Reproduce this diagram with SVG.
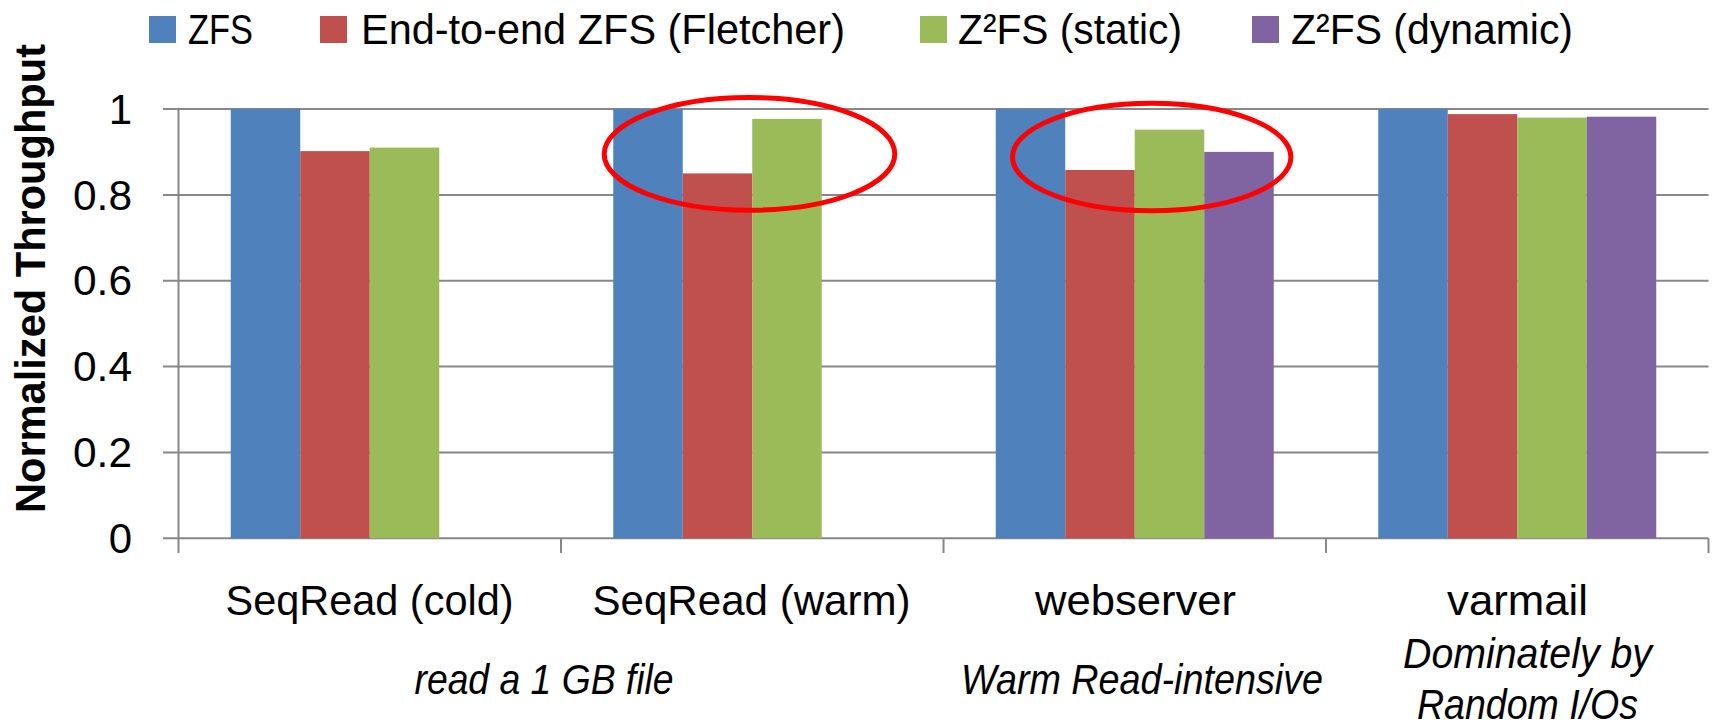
<svg xmlns="http://www.w3.org/2000/svg" width="1717" height="725" viewBox="0 0 1717 725">
<style>
.t{font-family:"Liberation Sans",Arial,sans-serif;font-size:42px;fill:#000}
.i{font-style:italic}
.b{font-weight:bold}
.grid{stroke:#878787;stroke-width:2;fill:none}
.blue{fill:#4F81BD}
.red{fill:#C0504D}
.green{fill:#9BBB59}
.purple{fill:#8064A2}
.ring{fill:none;stroke:#FF0000;stroke-width:5}
</style>
<rect width="1717" height="725" fill="#fff"/>
<g id="legend">
<rect class="blue" x="149" y="16" width="27" height="27"/>
<text class="t" x="188" y="43.5" textLength="65" lengthAdjust="spacingAndGlyphs">ZFS</text>
<rect class="red" x="320" y="16" width="27" height="27"/>
<text class="t" x="361" y="43.5" textLength="484" lengthAdjust="spacingAndGlyphs">End-to-end ZFS (Fletcher)</text>
<rect class="green" x="920" y="16" width="27" height="27"/>
<text class="t" x="958" y="43.5" textLength="224" lengthAdjust="spacingAndGlyphs">Z²FS (static)</text>
<rect class="purple" x="1252" y="16" width="27" height="27"/>
<text class="t" x="1291" y="43.5" textLength="282" lengthAdjust="spacingAndGlyphs">Z²FS (dynamic)</text>
</g>
<g id="axes">
<line class="grid" x1="163" y1="109" x2="1708.5" y2="109"/>
<line class="grid" x1="163" y1="194.9" x2="1708.5" y2="194.9"/>
<line class="grid" x1="163" y1="280.7" x2="1708.5" y2="280.7"/>
<line class="grid" x1="163" y1="366.6" x2="1708.5" y2="366.6"/>
<line class="grid" x1="163" y1="452.4" x2="1708.5" y2="452.4"/>
<line class="grid" x1="163" y1="538.3" x2="1708.5" y2="538.3"/>
<line class="grid" x1="178.5" y1="109" x2="178.5" y2="553"/>
<line class="grid" x1="561" y1="538.3" x2="561" y2="553"/>
<line class="grid" x1="943.5" y1="538.3" x2="943.5" y2="553"/>
<line class="grid" x1="1326" y1="538.3" x2="1326" y2="553"/>
<line class="grid" x1="1708.5" y1="538.3" x2="1708.5" y2="553"/>
</g>
<g id="ticklabels" text-anchor="end">
<text class="t" x="132" y="124">1</text>
<text class="t" x="132" y="209.5" textLength="59" lengthAdjust="spacingAndGlyphs">0.8</text>
<text class="t" x="132" y="295.3" textLength="59" lengthAdjust="spacingAndGlyphs">0.6</text>
<text class="t" x="132" y="381.2" textLength="59" lengthAdjust="spacingAndGlyphs">0.4</text>
<text class="t" x="132" y="467" textLength="59" lengthAdjust="spacingAndGlyphs">0.2</text>
<text class="t" x="132" y="552.9">0</text>
</g>
<text id="ytitle" class="t b" transform="translate(45,278.5) rotate(-90)" text-anchor="middle" textLength="469" lengthAdjust="spacingAndGlyphs">Normalized Throughput</text>
<g id="bars-seqread-cold">
<rect class="blue" x="230.75" y="109" width="69.5" height="429.3"/>
<rect class="red" x="300.25" y="151.1" width="69.5" height="387.2"/>
<rect class="green" x="369.75" y="147.6" width="69.5" height="390.7"/>
</g>
<g id="bars-seqread-warm">
<rect class="blue" x="613.25" y="109" width="69.5" height="429.3"/>
<rect class="red" x="682.75" y="173.4" width="69.5" height="364.9"/>
<rect class="green" x="752.25" y="118.9" width="69.5" height="419.4"/>
</g>
<g id="bars-webserver">
<rect class="blue" x="995.75" y="109" width="69.5" height="429.3"/>
<rect class="red" x="1065.25" y="170" width="69.5" height="368.3"/>
<rect class="green" x="1134.75" y="129.6" width="69.5" height="408.7"/>
<rect class="purple" x="1204.25" y="151.9" width="69.5" height="386.4"/>
</g>
<g id="bars-varmail">
<rect class="blue" x="1378.25" y="109" width="69.5" height="429.3"/>
<rect class="red" x="1447.75" y="114.1" width="69.5" height="424.2"/>
<rect class="green" x="1517.25" y="117.6" width="69.5" height="420.7"/>
<rect class="purple" x="1586.75" y="116.7" width="69.5" height="421.6"/>
</g>
<g id="categories" text-anchor="middle">
<text class="t" x="369.5" y="615" textLength="288" lengthAdjust="spacingAndGlyphs">SeqRead (cold)</text>
<text class="t" x="751.5" y="615" textLength="318" lengthAdjust="spacingAndGlyphs">SeqRead (warm)</text>
<text class="t" x="1135.5" y="615" textLength="201" lengthAdjust="spacingAndGlyphs">webserver</text>
<text class="t" x="1517.5" y="615" textLength="141" lengthAdjust="spacingAndGlyphs">varmail</text>
</g>
<g id="notes" text-anchor="middle">
<text class="t i" x="544" y="694" textLength="259" lengthAdjust="spacingAndGlyphs">read a 1 GB file</text>
<text class="t i" x="1142" y="694" textLength="362" lengthAdjust="spacingAndGlyphs">Warm Read-intensive</text>
<text class="t i" x="1527.5" y="668" textLength="249" lengthAdjust="spacingAndGlyphs">Dominately by</text>
<text class="t i" x="1527.5" y="719" textLength="221" lengthAdjust="spacingAndGlyphs">Random I/Os</text>
</g>
<g id="highlights">
<ellipse class="ring" cx="749.5" cy="153.9" rx="145.3" ry="56.3"/>
<ellipse class="ring" cx="1151.7" cy="157" rx="139.2" ry="53.8"/>
</g>
</svg>
